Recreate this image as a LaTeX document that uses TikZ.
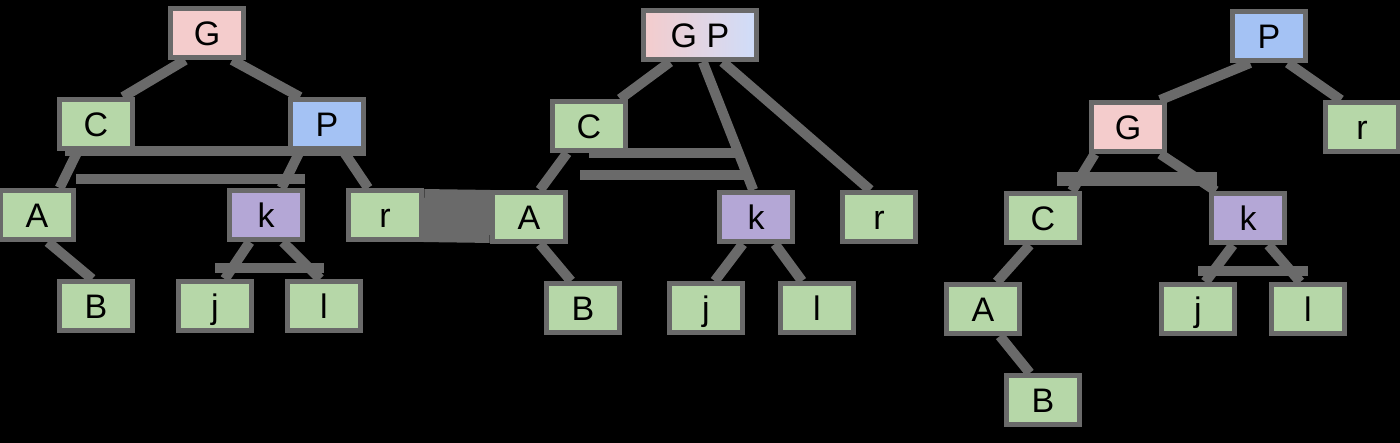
\documentclass[tikz,border=0pt]{standalone}
\usepackage{fontspec}
\setmainfont{Liberation Sans}
\usepackage{tikz}
\definecolor{linegray}{HTML}{6A6A6A}
\definecolor{leafgreen}{HTML}{B6D7A8}
\definecolor{rosepink}{HTML}{F4CCCC}
\definecolor{skyblue}{HTML}{A4C2F4}
\definecolor{paleblue}{HTML}{CFDDFA}
\definecolor{lilac}{HTML}{B4A7D6}
\pgfdeclarelayer{bg}
\pgfdeclarelayer{lines}
\pgfsetlayers{bg,lines,main}
\tikzstyle{box} = [rectangle, minimum width=73pt, minimum
height=49pt, text height=24.5pt, text depth=0pt, inner sep=0pt, draw=linegray,
line width=5pt, font=\fontsize{34}{40}\selectfont, fill=leafgreen]
\tikzstyle{gnode} = [box, fill=rosepink]
\tikzstyle{pnode} = [box, fill=skyblue]
\tikzstyle{knode} = [box, fill=lilac]
\tikzstyle{gpnode} = [box, minimum width=113pt, left color=rosepink,
right color=paleblue]
\tikzstyle{edge} = [draw=linegray, line width=10pt]

\begin{document}
\begin{tikzpicture}[x=1pt, y=1pt, node distance=91pt]
\useasboundingbox (0,0) rectangle (1400,-443);

% before
\node(G1)[gnode] at (207,-33){G};
\node(C1)[box, below of=G1, xshift=-111]{C};
\node(P1)[pnode, below of=G1, xshift=120]{P};
\node(A1)[box, below of=C1, xshift=-59]{A};
\node(k1)[knode, below of=P1, xshift=-61]{k};
\node(r1)[box, below of=P1, xshift=58]{r};
\node(B1)[box, below of=A1, xshift=59]{B};
\node(j1)[box, below of=k1, xshift=-51]{j};
\node(l1)[box, below of=k1, xshift=58]{l};

% middle
\node(GP)[gpnode] at (700,-35){G P};
\node(C2)[box, below of=GP, xshift=-111]{C};
\node(A2)[box, below of=C2, xshift=-60]{A};
\node(B2)[box, below of=A2, xshift=54]{B};
\node(k2)[knode, below of=C2, xshift=167]{k};
\node(r2)[box, below of=C2, xshift=290]{r};
\node(j2)[box, below of=k2, xshift=-50]{j};
\node(l2)[box, below of=k2, xshift=61]{l};

% after
\node(P3)[pnode] at (1269,-36){P};
\node(G3)[gnode, below of=P3, xshift=-141]{G};
\node(r3)[box, below of=P3, xshift=93]{r};
\node(C3)[box, below of=G3, xshift=-85]{C};
\node(k3)[knode, below of=G3, xshift=120]{k};
\node(A3)[box, below of=C3, xshift=-60]{A};
\node(j3)[box, below of=k3, xshift=-50]{j};
\node(l3)[box, below of=k3, xshift=60]{l};
\node(B3)[box, below of=A3, xshift=60]{B};

\begin{pgfonlayer}{bg}
\fill[black] (0,0) rectangle (1400,-443);
\end{pgfonlayer}

\begin{pgfonlayer}{lines}
\draw[edge](G1.231) -- (C1.45);
\draw[edge](G1.313) -- (P1.135);
\draw[edge](C1.236) -- (A1.50);
\draw[edge](P1.225) -- (k1.60);
\draw[edge](P1.301) -- (r1.122);
\draw[edge](A1.292) -- (B1.98);
\draw[edge](k1.239) -- (j1.70);
\draw[edge](k1.302) -- (l1.98);
\draw[edge]([xshift=8]C1.south west) -- (P1.south east);
\draw[edge]([yshift=9]A1.north east) -- ([yshift=9]k1.east |- A1.north east);
\draw[edge]([yshift=11]j1.north) -- ([yshift=11]l1.north);

\draw[edge, line width=53pt](r1) -- (A2);

\draw[edge](GP.222) -- (C2.41);
\draw[edge](GP.276) -- (k2.96);
\draw[edge](GP.310) -- (r2.108);
\draw[edge](C2.231) -- (A2.68);
\draw[edge](A2.292) -- (B2.114);
\draw[edge](k2.244) -- (j2.72);
\draw[edge](k2.305) -- (l2.119);
\draw[edge](C2.south) -- ([xshift=-18]k2.north |- C2.south);
\draw[edge]([xshift=12,yshift=15]A2.north east) -- ([xshift=-9,yshift=15]k2.north |- A2.north);

\draw[edge](P3.235) -- (G3.40);
\draw[edge](P3.305) -- (r3.128);
\draw[edge](G3.219) -- (C3.43);
\draw[edge](G3.320) -- (k3.140);
\draw[edge](C3.244) -- (A3.63);
\draw[edge](A3.302) -- (B3.116);
\draw[edge](k3.241) -- (j3.75);
\draw[edge](k3.307) -- (l3.106);
\draw[edge, line width=14pt]([xshift=14,yshift=12]C3.north) -- ([xshift=-31,yshift=12]k3.north);
\draw[edge]([yshift=11]j3.north) -- ([yshift=11]l3.north);
\end{pgfonlayer}

\end{tikzpicture}
\end{document}
